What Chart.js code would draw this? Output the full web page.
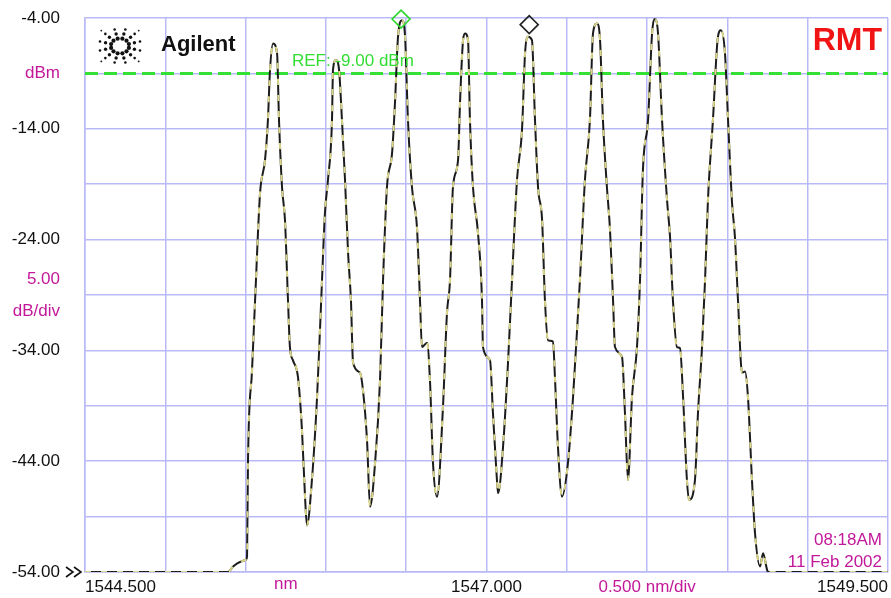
<!DOCTYPE html>
<html lang="en">
<head>
    <meta charset="UTF-8">
    <title>Agilent OSA trace</title>
    <script src="https://cdn.jsdelivr.net/npm/chart.js"></script>
    <style>
        html, body { margin: 0; padding: 0; background: #fff; }
        #wrap { width: 891px; height: 598px; }
    </style>
</head>
<body>
    <div id="wrap">
        <canvas id="osaChart" width="891" height="598"></canvas>
    </div>

    <script>
        // wavelength (nm) and power (dBm) of the trace
        var traceNm = [1544.500, 1545.390, 1545.422, 1545.465, 1545.502, 1545.509, 1545.515, 1545.540, 1545.559, 1545.590,
            1545.621, 1545.639, 1545.652, 1545.671, 1545.696, 1545.708, 1545.727, 1545.745, 1545.764, 1545.776,
            1545.795, 1545.826, 1545.851, 1545.870, 1545.882, 1545.913, 1545.945, 1545.963, 1545.976, 1545.994,
            1546.013, 1546.038, 1546.044, 1546.063, 1546.082, 1546.100, 1546.119, 1546.138, 1546.156, 1546.169,
            1546.212, 1546.231, 1546.256, 1546.275, 1546.306, 1546.337, 1546.356, 1546.380, 1546.412, 1546.430,
            1546.449, 1546.474, 1546.493, 1546.511, 1546.536, 1546.567, 1546.586, 1546.598, 1546.630, 1546.648,
            1546.667, 1546.692, 1546.729, 1546.754, 1546.773, 1546.791, 1546.823, 1546.835, 1546.854, 1546.866,
            1546.885, 1546.897, 1546.916, 1546.947, 1546.972, 1546.978, 1547.022, 1547.040, 1547.065, 1547.072,
            1547.103, 1547.134, 1547.159, 1547.190, 1547.221, 1547.240, 1547.258, 1547.283, 1547.302, 1547.321,
            1547.346, 1547.364, 1547.383, 1547.414, 1547.427, 1547.445, 1547.470, 1547.507, 1547.539, 1547.570,
            1547.582, 1547.613, 1547.644, 1547.663, 1547.688, 1547.707, 1547.725, 1547.750, 1547.769, 1547.788,
            1547.800, 1547.844, 1547.862, 1547.881, 1547.906, 1547.937, 1547.956, 1547.974, 1548.006, 1548.031,
            1548.049, 1548.068, 1548.093, 1548.124, 1548.143, 1548.161, 1548.186, 1548.205, 1548.224, 1548.248,
            1548.261, 1548.298, 1548.317, 1548.342, 1548.361, 1548.379, 1548.410, 1548.441, 1548.460, 1548.485,
            1548.504, 1548.529, 1548.547, 1548.566, 1548.591, 1548.610, 1548.628, 1548.653, 1548.672, 1548.703,
            1548.722, 1548.747, 1548.753, 1549.500];
        var traceDbm = [-54.0, -54.0, -53.5, -53.1, -52.9, -52.6, -43.9, -35.8, -29.5, -19.8,
            -16.8, -13.2, -8.7, -6.3, -7.2, -13.2, -19.3, -22.2, -29.5, -33.7,
            -34.9, -36.4, -41.2, -47.2, -49.8, -45.7, -38.2, -32.2, -27.6, -21.6,
            -18.6, -13.2, -8.7, -7.8, -8.7, -13.2, -18.6, -25.2, -29.5, -35.1,
            -36.0, -37.6, -42.1, -48.1, -44.2, -36.7, -27.6, -19.3, -16.2, -11.7,
            -5.7, -4.2, -5.7, -13.2, -19.3, -22.9, -29.5, -33.7, -33.3, -36.7,
            -44.2, -47.2, -39.1, -30.6, -27.6, -19.3, -16.8, -11.7, -6.0, -5.4,
            -6.0, -13.2, -19.3, -23.4, -29.5, -33.7, -34.9, -39.6, -45.7, -46.9,
            -42.7, -35.1, -27.6, -18.6, -14.1, -7.2, -5.7, -6.0, -13.2, -19.3,
            -22.2, -29.5, -33.1, -33.2, -36.7, -42.7, -47.2, -44.2, -38.2, -30.6,
            -27.6, -18.6, -13.2, -5.4, -4.5, -6.0, -13.2, -19.3, -23.1, -29.5,
            -33.7, -34.6, -39.6, -45.7, -38.2, -33.7, -27.6, -17.7, -13.2, -5.4,
            -4.1, -5.4, -13.2, -20.4, -23.8, -29.5, -33.7, -33.8, -38.2, -45.7,
            -47.5, -45.7, -39.6, -33.7, -27.6, -20.4, -13.2, -5.7, -5.1, -7.2,
            -13.2, -20.7, -23.8, -29.5, -36.0, -35.9, -38.2, -45.7, -50.5, -53.5,
            -52.3, -53.8, -54.0, -54.0];

        // markers (green = active, black = second)
        var markerNm = [1546.468, 1547.266];
        var markerDbm = [-4.1, -4.6];
        var markerColors = ['#2fd62f', '#222222'];

        var refLevel = -9;
        var xMin = 1544.5, xMax = 1549.5, xStep = 0.5;
        var yMin = -54, yMax = -4, yStep = 5;

        var magenta = '#c2189a';
        var gridColor = '#b9b9f7';
        var fontFamily = '"Liberation Sans", Arial, Helvetica, sans-serif';

        function zip(xs, ys) {
            var out = [];
            for (var i = 0; i < Math.min(xs.length, ys.length); i++) {
                out.push({ x: xs[i], y: ys[i] });
            }
            return out;
        }

        function yLabel(v) {
            var r = Math.round(v);
            if (r === refLevel) return 'dBm';
            if (r === -29) return ['5.00', 'dB/div'];
            if ((r - yMin) % 10 === 0) return r.toFixed(2);
            return '';
        }

        function xLabel(v) {
            var r = Math.round(v * 1000) / 1000;
            if (r === xMin || r === xMax || r === 1547) return r.toFixed(3);
            if (r === 1548) return '0.500 nm/div';
            return '';
        }

        // logo, banners and the small extra texts
        var decor = {
            id: 'decor',
            afterDraw: function (chart) {
                var ctx = chart.ctx;
                var xs = chart.scales.x, ys = chart.scales.y;
                ctx.save();

                // agilent spark
                var cx = 120, cy = 46;
                ctx.fillStyle = '#111';
                for (var k = 0; k < 12; k++) {
                    var a = k * Math.PI / 6 + Math.PI / 12;
                    var long = (k % 3 === 1);
                    var radii = long ? [8, 13, 18, 23] : [8, 13, 18];
                    for (var j = 0; j < radii.length; j++) {
                        var sz = 2.1 - j * 0.4;
                        ctx.beginPath();
                        ctx.arc(cx + Math.cos(a) * radii[j] * 1.15, cy + Math.sin(a) * radii[j] * 0.95, sz, 0, Math.PI * 2);
                        ctx.fill();
                    }
                }
                ctx.font = 'bold 22px ' + fontFamily;
                ctx.textBaseline = 'middle';
                ctx.textAlign = 'left';
                ctx.fillText('Agilent', 161, 45);

                ctx.fillStyle = '#f01414';
                ctx.font = 'bold 32px ' + fontFamily;
                ctx.textAlign = 'right';
                ctx.fillText('RMT', 882, 41);

                // reference label
                var yRef = ys.getPixelForValue(refLevel);
                ctx.fillStyle = '#33dd33';
                ctx.font = '17px ' + fontFamily;
                ctx.textAlign = 'left';
                ctx.fillText('REF: ' + refLevel.toFixed(2) + ' dBm', 292, yRef - 12);

                // unit and timestamp
                ctx.fillStyle = magenta;
                ctx.textAlign = 'center';
                ctx.fillText('nm', xs.getPixelForValue(1545.75), 584);
                ctx.textAlign = 'right';
                ctx.fillText('08:18AM', 882, 540);
                ctx.fillText('11 Feb 2002', 882, 562);

                // bottom chevrons
                var yb = ys.getPixelForValue(yMin);
                ctx.strokeStyle = '#111';
                ctx.lineWidth = 1.6;
                [66, 74].forEach(function (x0) {
                    ctx.beginPath();
                    ctx.moveTo(x0, yb - 5);
                    ctx.lineTo(x0 + 7, yb);
                    ctx.lineTo(x0, yb + 5);
                    ctx.stroke();
                });
                ctx.restore();
            }
        };

        var traceData = zip(traceNm, traceDbm);
        var ctx = document.getElementById('osaChart').getContext('2d');
        var osaChart = new Chart(ctx, {
            type: 'line',
            data: {
                datasets: [
                    {
                        label: 'REF',
                        data: [{ x: xMin, y: refLevel }, { x: xMax, y: refLevel }],
                        borderColor: '#33e033',
                        borderWidth: 3,
                        borderDash: [13, 6],
                        pointRadius: 0,
                        order: 3
                    },
                    {
                        label: 'trace',
                        data: traceData,
                        borderColor: '#1c1c1c',
                        borderWidth: 2,
                        pointRadius: 0,
                        cubicInterpolationMode: 'monotone',
                        order: 2
                    },
                    {
                        label: 'trace B',
                        data: traceData,
                        borderColor: '#d9d58c',
                        borderWidth: 2,
                        borderDash: [6, 10],
                        pointRadius: 0,
                        cubicInterpolationMode: 'monotone',
                        order: 1
                    },
                    {
                        label: 'markers',
                        type: 'scatter',
                        data: zip(markerNm, markerDbm),
                        pointStyle: 'rectRot',
                        pointRadius: 9,
                        borderWidth: 1.6,
                        borderColor: markerColors,
                        backgroundColor: 'rgba(0,0,0,0)',
                        clip: false,
                        order: 0
                    }
                ]
            },
            options: {
                responsive: false,
                animation: false,
                events: [],
                layout: { autoPadding: false, padding: { top: 18, right: 3, left: 0, bottom: 0 } },
                plugins: {
                    legend: { display: false },
                    tooltip: { enabled: false }
                },
                scales: {
                    x: {
                        type: 'linear',
                        min: xMin,
                        max: xMax,
                        afterBuildTicks: function (scale) {
                            var t = [];
                            for (var v = xMin; v <= xMax + 1e-9; v += xStep) t.push({ value: Math.round(v * 10) / 10 });
                            scale.ticks = t;
                        },
                        afterFit: function (scale) {
                            scale.height = 26;
                            scale.paddingLeft = 0;
                            scale.paddingRight = 0;
                        },
                        grid: { color: gridColor, lineWidth: 1.5, drawTicks: false },
                        border: { color: gridColor, width: 1.5 },
                        ticks: {
                            autoSkip: false,
                            maxRotation: 0,
                            align: 'inner',
                            padding: 5,
                            font: { family: fontFamily, size: 17 },
                            color: function (c) { return Math.round(c.tick.value) === 1548 ? magenta : '#111'; },
                            callback: function (v) { return xLabel(v); }
                        }
                    },
                    y: {
                        type: 'linear',
                        min: yMin,
                        max: yMax,
                        afterBuildTicks: function (scale) {
                            var t = [];
                            for (var v = yMin; v <= yMax; v += yStep) t.push({ value: v });
                            scale.ticks = t;
                        },
                        afterFit: function (scale) {
                            scale.width = 85;
                            scale.paddingTop = 0;
                            scale.paddingBottom = 0;
                        },
                        grid: { color: gridColor, lineWidth: 1.5, drawTicks: false },
                        border: { color: gridColor, width: 1.5 },
                        ticks: {
                            autoSkip: false,
                            padding: 25,
                            font: { family: fontFamily, size: 17, lineHeight: 1.9 },
                            color: function (c) {
                                var r = Math.round(c.tick.value);
                                return (r === refLevel || r === -29) ? magenta : '#111';
                            },
                            callback: function (v) { return yLabel(v); }
                        }
                    }
                }
            },
            plugins: [decor]
        });
    </script>
</body>
</html>
